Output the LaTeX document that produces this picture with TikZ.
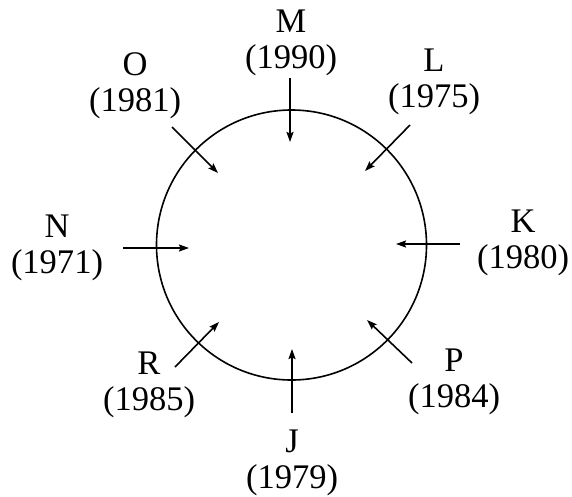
\documentclass[tikz,border=0pt]{standalone}
\usepackage{fontspec}
\setmainfont{Liberation Serif}
\usetikzlibrary{arrows.meta}
\begin{document}
\begin{tikzpicture}[x=1pt,y=-1pt,
  lbl/.style={align=center,anchor=base,inner sep=0pt,
    font=\fontsize{34.5}{36}\selectfont},
  arr/.style={line width=1.6pt,-{Stealth[length=10pt,width=7pt,inset=1.5pt]}},
  ring/.style={line width=1.6pt}]
\useasboundingbox (0,0) rectangle (572,496);
\node[ring,draw,circle,minimum size=270pt,inner sep=0pt] (C) at (291.5,245) {};
% labels (anchor = baseline of the year line)
\node[lbl] (M) at (291,68) {M\\(1990)};
\node[lbl] (O) at (135,111) {O\\(1981)};
\node[lbl] (L) at (434,107) {L\\(1975)};
\node[lbl] (N) at (57,273) {N\\(1971)};
\node[lbl] (K) at (523,268) {K\\(1980)};
\node[lbl] (R) at (149,410) {R\\(1985)};
\node[lbl] (J) at (292,488) {J\\(1979)};
\node[lbl] (P) at (454,407) {P\\(1984)};
% arrow ends
\coordinate (Ms) at (290,78);  \coordinate (Me) at (290,142);
\coordinate (Os) at (172,127); \coordinate (Oe) at (218,173);
\coordinate (Ls) at (410,125); \coordinate (Le) at (365,171);
\coordinate (Ns) at (123,248); \coordinate (Ne) at (189,248);
\coordinate (Ks) at (460,244); \coordinate (Ke) at (396,244);
\coordinate (Rs) at (175,367); \coordinate (Re) at (219,322);
\coordinate (Js) at (292,413); \coordinate (Je) at (292,349);
\coordinate (Ps) at (412,363); \coordinate (Pe) at (367,320);
\draw[arr] (Ms) -- (Me);
\draw[arr] (Os) -- (Oe);
\draw[arr] (Ls) -- (Le);
\draw[arr] (Ns) -- (Ne);
\draw[arr] (Ks) -- (Ke);
\draw[arr] (Rs) -- (Re);
\draw[arr] (Js) -- (Je);
\draw[arr] (Ps) -- (Pe);
\end{tikzpicture}
\end{document}
